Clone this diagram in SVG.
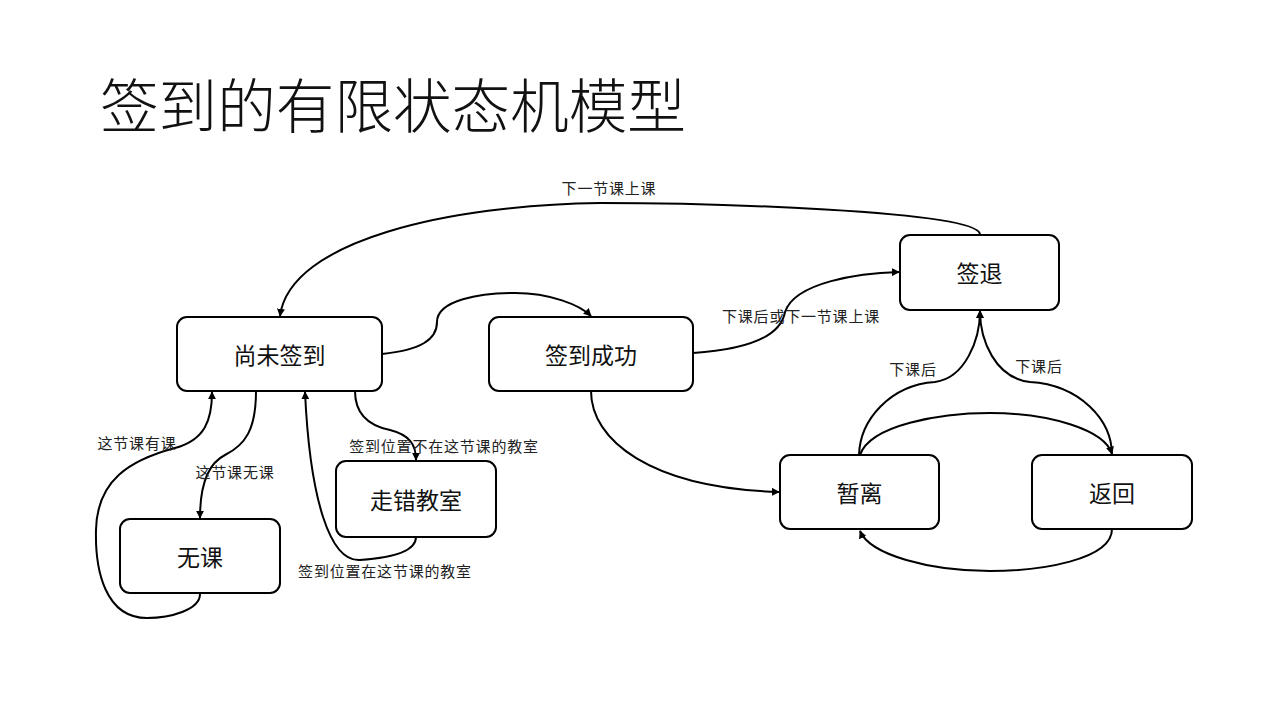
<svg xmlns="http://www.w3.org/2000/svg" width="1280" height="720" viewBox="0 0 1280 720">
<style>
.node rect{fill:#fff;stroke:#000;stroke-width:2}
.node text{font-family:"Noto Sans CJK SC","Noto Sans",sans-serif;font-size:23px;fill:#111;text-anchor:middle;dominant-baseline:central}
.edge{fill:none;stroke:#000;stroke-width:2}
.lbl{font-family:"Noto Sans CJK SC","Noto Sans",sans-serif;font-size:15px;letter-spacing:0.8px;fill:#222;text-anchor:middle;dominant-baseline:central}
.title{font-family:"Noto Sans CJK SC","Noto Sans",sans-serif;font-size:58.6px;font-weight:300;fill:#111}
</style>
<defs>
<marker id="arr" viewBox="0 0 10 10" refX="9" refY="5" markerWidth="8" markerHeight="8" markerUnits="userSpaceOnUse" orient="auto">
<path d="M0,0 L10,5 L0,10 z" fill="#000"/>
</marker>
</defs>
<rect width="1280" height="720" fill="#fff"/>
<text class="title" x="100" y="128">签到的有限状态机模型</text>

<g id="connectors">
<path class="edge" marker-end="url(#arr)" d="M980,234 C975,210 700,203 600,203 C450,205 290,240 280,316"/>
<path class="edge" marker-end="url(#arr)" d="M382,354 C420,350 437,340 437,322 C437,300 480,293 515,293 C550,293 580,305 591,316"/>
<path class="edge" marker-end="url(#arr)" d="M693,353 C740,350 780,340 785,312 C795,282 860,273 899,272"/>
<path class="edge" marker-end="url(#arr)" d="M591,391 C591,440 650,488 779,492"/>
<path class="edge" marker-end="url(#arr)" d="M859,455 C860,420 890,385 935,382 C965,378 980,340 980,311"/>
<path class="edge" marker-end="url(#arr)" d="M1112,455 C1112,420 1080,385 1030,382 C995,378 980,340 980,311"/>
<path class="edge" marker-end="url(#arr)" d="M860,455 C870,425 940,413 990,413 C1050,413 1105,430 1112,454"/>
<path class="edge" marker-end="url(#arr)" d="M1112,529 C1112,560 1040,571 990,571 C930,571 870,555 860,531"/>
<path class="edge" marker-end="url(#arr)" d="M256,391 C256,430 245,445 225,455 C205,465 200,490 200,518"/>
<path class="edge" marker-end="url(#arr)" d="M200,594 C200,610 170,618 147,618 C105,618 95,570 96,530 C97,480 130,460 175,448 C205,440 212,420 212,392"/>
<path class="edge" marker-end="url(#arr)" d="M355,391 C355,410 365,425 390,430 C410,435 416,445 416,460"/>
<path class="edge" marker-end="url(#arr)" d="M416,537 C416,552 390,558 360,560 C330,562 310,500 305,392"/>
<text class="lbl" x="609" y="187">下一节课上课</text>
<text class="lbl" x="801" y="315">下课后或下一节课上课</text>
<text class="lbl" x="913" y="368">下课后</text>
<text class="lbl" x="1039" y="365">下课后</text>
<text class="lbl" x="137" y="442">这节课有课</text>
<text class="lbl" x="235" y="471">这节课无课</text>
<text class="lbl" x="444" y="445">签到位置不在这节课的教室</text>
<text class="lbl" x="385" y="570">签到位置在这节课的教室</text>
</g>

<g id="n-weiqiandao" class="node"><rect x="177" y="317" width="205" height="74" rx="10"/><text x="279.5" y="354">尚未签到</text></g>
<g id="n-chenggong" class="node"><rect x="489" y="317" width="204" height="74" rx="10"/><text x="591" y="354">签到成功</text></g>
<g id="n-qiantui" class="node"><rect x="900" y="235" width="159" height="75" rx="10"/><text x="979.5" y="272">签退</text></g>
<g id="n-zoucuo" class="node"><rect x="336" y="461" width="160" height="76" rx="10"/><text x="416" y="499">走错教室</text></g>
<g id="n-wuke" class="node"><rect x="120" y="519" width="160" height="74" rx="10"/><text x="200" y="556">无课</text></g>
<g id="n-zanli" class="node"><rect x="780" y="455" width="159" height="74" rx="10"/><text x="859.5" y="492">暂离</text></g>
<g id="n-fanhui" class="node"><rect x="1032" y="455" width="160" height="74" rx="10"/><text x="1112" y="492">返回</text></g>
</svg>
